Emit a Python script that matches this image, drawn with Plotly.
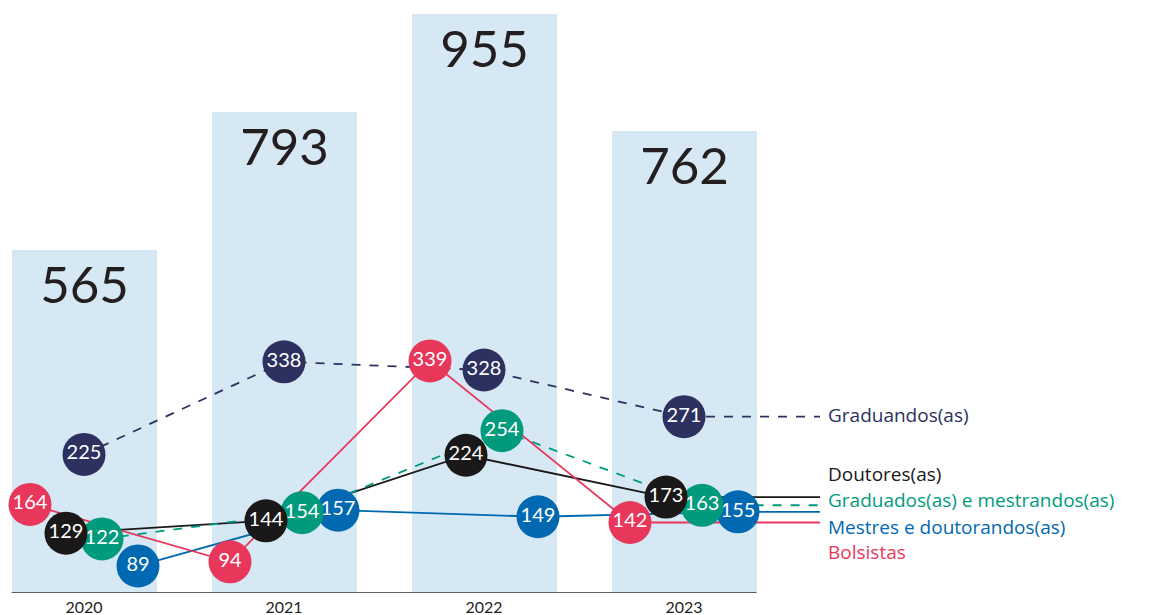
import plotly.graph_objects as go

# ---- data ----
years = [2020, 2021, 2022, 2023]
totals = [565, 793, 955, 762]

series_names = [
    "Graduandos(as)",
    "Doutores(as)",
    "Graduados(as) e mestrandos(as)",
    "Mestres e doutorandos(as)",
    "Bolsistas",
]
graduandos = [225, 338, 328, 271]
doutores = [129, 144, 224, 173]
graduados_mestrandos = [122, 154, 254, 163]
mestres_doutorandos = [89, 157, 149, 155]
bolsistas = [164, 94, 339, 142]

# ---- style ----
FONT = "Lato"
LABEL_FONT = "Open Sans"
BAR_COLOR = "#d5e8f4"
BAR_W = 0.725
LABEL_X = 2023.71
EXT_END = 2023.68

styles = {
    "Graduandos(as)": dict(values=graduandos, color="#2c3160", dash="dash", off=0.0, yshift=2),
    "Doutores(as)": dict(values=doutores, color="#1a1818", dash="solid", off=-0.09, yshift=23),
    "Graduados(as) e mestrandos(as)": dict(values=graduados_mestrandos, color="#009b7d", dash="dash", off=0.09, yshift=5),
    "Mestres e doutorandos(as)": dict(values=mestres_doutorandos, color="#0069b1", dash="solid", off=0.27, yshift=-15),
    "Bolsistas": dict(values=bolsistas, color="#e8375b", dash="solid", off=-0.27, yshift=-30),
}
marker_order = ["Graduandos(as)", "Mestres e doutorandos(as)", "Graduados(as) e mestrandos(as)", "Doutores(as)", "Bolsistas"]

fig = go.Figure()

fig.add_trace(go.Bar(
    x=years, y=totals, width=BAR_W, marker_color=BAR_COLOR, marker_line_width=0,
    text=[str(v) for v in totals], textposition="inside", insidetextanchor="end",
    textangle=0, constraintext="none",
    textfont=dict(family=FONT, size=51, color="#231f20"),
    hoverinfo="skip", yaxis="y",
))

# lines first
for name in series_names:
    s = styles[name]
    xs = [y + s["off"] for y in years] + [EXT_END]
    ys = s["values"] + [s["values"][-1]]
    fig.add_trace(go.Scatter(
        x=xs, y=ys, mode="lines", yaxis="y2",
        line=dict(color=s["color"], width=1.8, dash=s["dash"]),
        hoverinfo="skip",
    ))

# circles with values
for name in marker_order:
    s = styles[name]
    fig.add_trace(go.Scatter(
        x=[y + s["off"] for y in years], y=s["values"], mode="markers+text", yaxis="y2",
        marker=dict(size=43, color=s["color"], line=dict(width=0)),
        text=[str(v) for v in s["values"]], textposition="middle center",
        textfont=dict(family=FONT, size=20, color="white"),
        hoverinfo="skip",
    ))

annotations = []
for name in series_names:
    s = styles[name]
    annotations.append(dict(
        x=LABEL_X, y=s["values"][-1], xref="x", yref="y2", text=name,
        showarrow=False, xanchor="left", yanchor="middle", yshift=s["yshift"],
        font=dict(family=LABEL_FONT, size=19, color=s["color"]),
    ))

fig.update_layout(
    width=1153, height=607,
    margin=dict(l=0, r=0, t=0, b=22),
    paper_bgcolor="white", plot_bgcolor="white",
    showlegend=False, hovermode=False, bargap=0,
    xaxis=dict(range=[2019.62, 2025.385], tickvals=years, ticktext=[str(y) for y in years],
               showgrid=False, zeroline=False, showline=False, ticks="", ticklabelstandoff=3,
               tickfont=dict(family=FONT, size=16, color="#231f20")),
    yaxis=dict(range=[0, 965], visible=False, showgrid=False, zeroline=False),
    yaxis2=dict(range=[56, 769.5], visible=False, overlaying="y", showgrid=False, zeroline=False),
    annotations=annotations,
    shapes=[dict(type="line", xref="x", yref="y", x0=years[0] - BAR_W / 2, x1=years[-1] + BAR_W / 2,
                 y0=0, y1=0, line=dict(color="#333333", width=1.5))],
)

fig.write_html("out.html")
